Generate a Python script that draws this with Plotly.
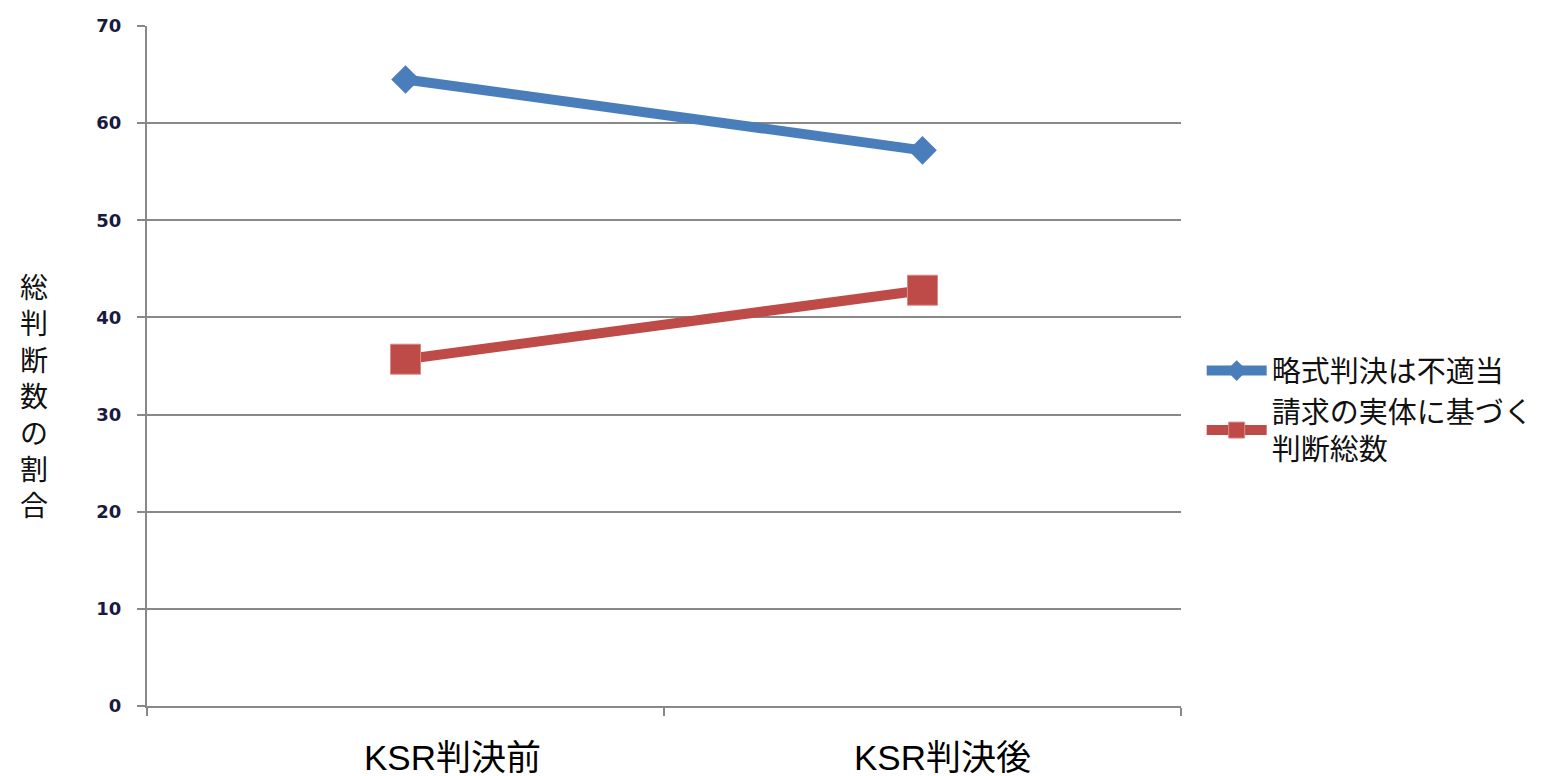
import plotly.graph_objects as go

categories = ["KSR判決前", "KSR判決後"]
series_names = ["略式判決は不適当", "請求の実体に基づく<br>判断総数"]
blue_values = [64.5, 57.2]
red_values = [35.7, 42.8]
y_ticks = [0, 10, 20, 30, 40, 50, 60, 70]
label_xshift = [47, 20]

fig = go.Figure()
fig.add_trace(go.Scatter(
    x=categories, y=blue_values, name=series_names[0], mode="lines+markers",
    line=dict(color="#4a7ebb", width=10),
    marker=dict(symbol="diamond", size=22, color="#4a7ebb"),
))
fig.add_trace(go.Scatter(
    x=categories, y=red_values, name=series_names[1], mode="lines+markers",
    line=dict(color="#be4b48", width=10),
    marker=dict(symbol="square", size=30, color="#be4b48", line=dict(color="#d98a88", width=1)),
))

fig.update_layout(
    width=1556, height=776,
    margin=dict(l=147, r=375, t=26, b=70),
    paper_bgcolor="white", plot_bgcolor="white",
    font=dict(family="Noto Sans CJK JP, Arial, sans-serif", color="black"),
    showlegend=True,
    legend=dict(x=1.02, y=0.435, xanchor="left", yanchor="middle",
                font=dict(size=29, family="Noto Sans CJK JP", color="#111"),
                tracegroupgap=0, itemwidth=60),
    xaxis=dict(type="category", range=[-0.5, 1.5], tickson="boundaries",
               ticks="outside", ticklen=8, tickwidth=2, tickcolor="#888",
               showgrid=False, showline=True, linecolor="#888", linewidth=2,
               showticklabels=False),
    yaxis=dict(range=[0, 70], tickvals=y_ticks, ticks="outside", ticklen=8,
               tickwidth=2, tickcolor="#888", showgrid=True, gridcolor="#888",
               gridwidth=2, showline=True, linecolor="#888", linewidth=2,
               zeroline=False, ticklabelstandoff=12,
               tickfont=dict(size=18, family="DejaVu Sans", color="#1a1a40", weight="bold")),
)

for cat, dx in zip(categories, label_xshift):
    fig.add_annotation(
        text=cat, x=cat, xref="x", y=0, yref="paper", yanchor="middle",
        xanchor="center", yshift=-51, xshift=dx, showarrow=False,
        font=dict(size=35, family="Liberation Sans, Arial, Noto Sans CJK JP", color="black"),
    )

fig.add_annotation(
    text="<br>".join(list("総判断数の割合")),
    xref="paper", yref="paper", x=-0.109, y=0.458, xanchor="center", yanchor="middle",
    showarrow=False, font=dict(size=28, family="Noto Sans CJK JP", color="#111"),
    align="center",
)

fig.write_html("out.html")
